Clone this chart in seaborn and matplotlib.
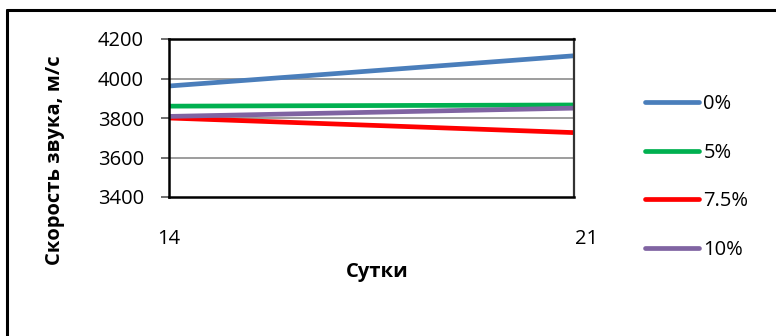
import matplotlib
matplotlib.use("Agg")
import matplotlib.pyplot as plt
import matplotlib.transforms as mtransforms
from matplotlib.lines import Line2D
import seaborn as sns
import pandas as pd

# Sound velocity measured on days 14 and 21 for each additive content
days = ["14", "21"]
series_names = ["0%", "5%", "7.5%", "10%"]
v_0 = [3962, 4115]
v_5 = [3860, 3866]
v_7_5 = [3800, 3726]
v_10 = [3808, 3850]
colors = ["#4A7EBB", "#00B050", "#FF0000", "#8064A2"]

rows = []
for name, vals in zip(series_names, [v_0, v_5, v_7_5, v_10]):
    for i, v in enumerate(vals):
        rows.append({"pos": i, "day": days[i], "series": name, "v": v})
df = pd.DataFrame(rows)

sns.set_theme(style="white")
plt.rcParams["font.family"] = ["Open Sans", "DejaVu Sans"]
plt.rcParams["text.color"] = "black"
plt.rcParams["xtick.labelcolor"] = "black"
plt.rcParams["ytick.labelcolor"] = "black"

FS = 14.5
W, H = 776, 336
fig = plt.figure(figsize=(W / 100, H / 100), dpi=100)
ax = fig.add_axes([169 / W, 1 - 197 / H, (574 - 169) / W, (197 - 39) / H])

sns.lineplot(data=df, x="pos", y="v", hue="series", hue_order=series_names,
             palette=colors, linewidth=3.4, ax=ax, legend=False,
             sort=False)

ax.set_xlim(0, 1)
ax.set_ylim(3400, 4200)
ax.set_yticks([3400, 3600, 3800, 4000, 4200])
ax.set_yticklabels(["3400", "3600", "3800", "4000", "4200"], fontsize=FS)
ax.set_xticks([0, 1])
ax.set_xticklabels(days, fontsize=FS)
ax.tick_params(axis="x", length=0, pad=23, labelcolor="black")
ax.tick_params(axis="y", length=6, width=1.2, color="#555555", pad=12,
               left=True, labelcolor="black")

# shift the last day label slightly right
lbls = ax.get_xticklabels()
lbls[1].set_transform(lbls[1].get_transform() +
                      mtransforms.ScaledTranslation(13 / 100, 0, fig.dpi_scale_trans))

for yv in [3600, 3800, 4000]:
    ax.axhline(yv, color="#8C8C8C", lw=1.2, zorder=0)

for s in ["left", "bottom", "top"]:
    ax.spines[s].set_color("black")
    ax.spines[s].set_linewidth(1.8)
ax.spines["right"].set_color("#333333")
ax.spines["right"].set_linewidth(1.6)

ax.set_xlabel("")
ax.set_ylabel("")
fig.text(377 / W, 1 - 272 / H, "Сутки", fontsize=FS, fontweight="bold",
         ha="center", va="center", color="black")
fig.text(55 / W, 1 - 160 / H, "Скорость звука, м/с", fontsize=FS,
         fontweight="bold", rotation=90, ha="center", va="center", color="black")

handles = [Line2D([0], [0], color=c, lw=3.4, solid_capstyle="round") for c in colors]
leg = fig.legend(handles, series_names, loc="upper left",
                 bbox_to_anchor=(645 / W, 1 - 94 / H), frameon=False, fontsize=FS,
                 handlelength=2.7, handletextpad=0.2, labelspacing=1.42,
                 borderpad=0, borderaxespad=0)
for t in leg.get_texts():
    t.set_color("black")

# outer frame (top and left edges)
fig.add_artist(Line2D([7 / W, 1.0], [1 - 9.5 / H, 1 - 9.5 / H], color="black", lw=2.2))
fig.add_artist(Line2D([7 / W, 7 / W], [0.0, 1 - 9.5 / H], color="black", lw=2.2))

fig.savefig("out.png", dpi=100)
